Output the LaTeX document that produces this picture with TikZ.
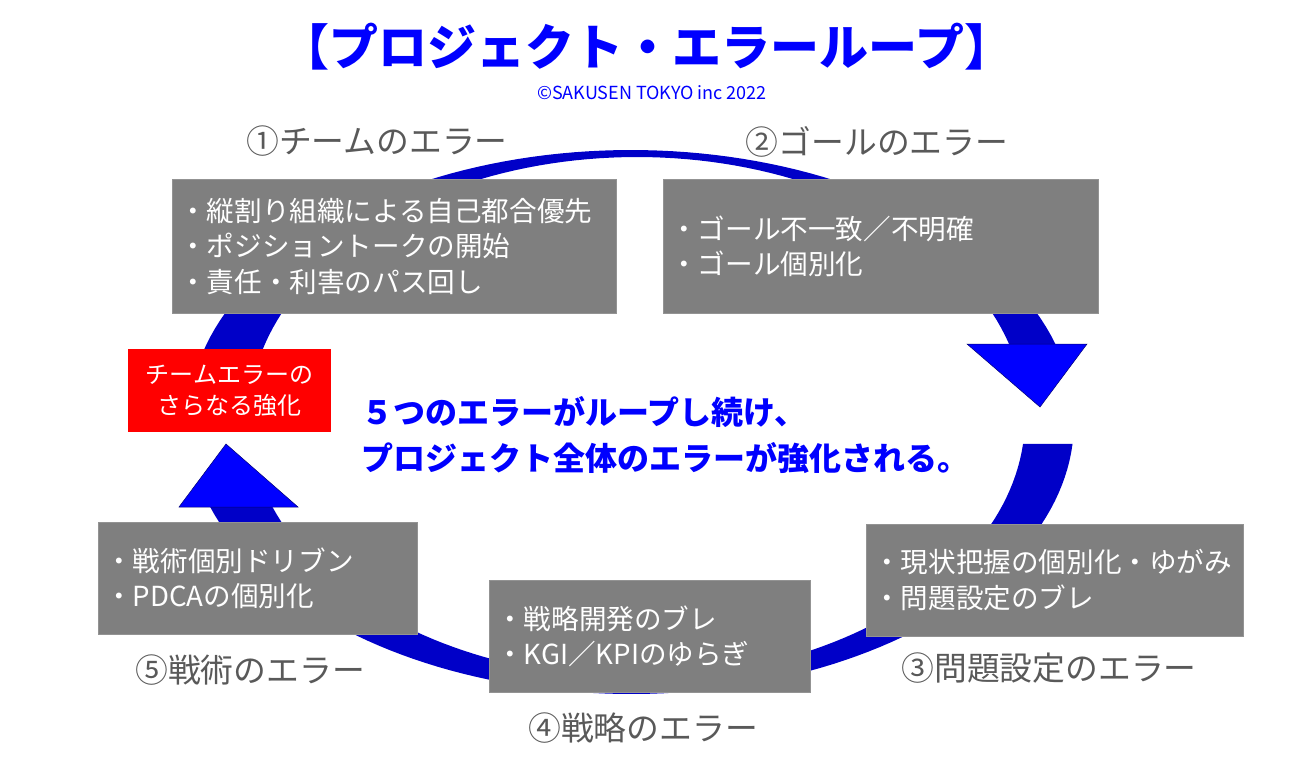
\documentclass[tikz,border=0pt]{standalone}
\usepackage{fontspec}
\newfontfamily\jp{Noto Sans CJK JP}
\definecolor{boxgray}{HTML}{7F7F7F}
\definecolor{labelgray}{HTML}{595959}
\definecolor{ringblue}{HTML}{0000C8}
\begin{document}
\begin{tikzpicture}[x=1pt,y=-1pt,
  box/.style={fill=boxgray,draw=gray!85,text=white,anchor=north west,align=left,inner xsep=7pt,font={\jp\fontsize{27.6}{35.5}\selectfont}},
  errlabel/.style={text=labelgray,font={\jp\fontsize{32.8}{38}\selectfont}},
  head/.style={fill=blue,draw=blue!45!black,line width=0.5pt}]
\useasboundingbox (0,0) rectangle (1293,764);
% loop ring, upper and lower half
\fill[ringblue] plot[domain=180:16.7,samples=90] ({631+443*cos(\x)},{422-272*sin(\x)})
  -- plot[domain=16.5:180,samples=90] ({637+388*cos(\x)},{418-261*sin(\x)}) -- cycle;
\filldraw[head] (967,344) -- (1040,407) -- (1087,344) -- cycle;
\fill[ringblue] plot[domain=-4.6:-161.8,samples=90] ({631+443*cos(\x)},{422-272*sin(\x)})
  -- plot[domain=-160:-5.7,samples=90] ({637+388*cos(\x)},{418-260*sin(\x)}) -- cycle;
\filldraw[head] (179,507) -- (226,444) -- (298,507) -- cycle;
% boxes
\foreach \name/\x/\y/\w/\h/\txt in {
  team/172/179/444/134/{・縦割り組織による自己都合優先\\・ポジショントークの開始\\・責任・利害のパス回し},
  goal/663/179/435/134/{・ゴール不一致／不明確\\・ゴール個別化},
  problem/866/524/377/112/{・現状把握の個別化・ゆがみ\\・問題設定のブレ},
  strategy/489/580/321/112/{・戦略開発のブレ\\・KGI／KPIのゆらぎ},
  tactics/98/522/319/112/{・戦術個別ドリブン\\・PDCAの個別化}}{
\pgfmathsetmacro\tw{\w-14}
\node[box,text width=\tw pt,minimum height=\h pt] (\name) at (\x,\y) {\txt};
}
\foreach \name/\x/\y/\txt in {teamlbl/377/141/①チームのエラー,goallbl/877/142/②ゴールのエラー,
  problemlbl/1049/668/③問題設定のエラー,strategylbl/643/728/④戦略のエラー,tacticslbl/250/670/⑤戦術のエラー}
  \node[errlabel] (\name) at (\x,\y) {\txt};
\node[fill=red,text=white,align=center,minimum width=203pt,minimum height=83pt,font={\jp\fontsize{24}{31}\selectfont}] (boost) at (229.5,390.5) {チームエラーの\\さらなる強化};
\node[text=blue,font={\jp\bfseries\fontsize{49}{54}\selectfont}] (title) at (647,47) {【プロジェクト・エラーループ】};
\node[text=blue,font={\jp\fontsize{18}{20}\selectfont}] (copy) at (652,93) {©SAKUSEN TOKYO inc 2022};
\node[text=blue,align=left,anchor=west,font={\jp\bfseries\fontsize{32}{46}\selectfont}] (msg) at (358,435) {５つのエラーがループし続け、\\プロジェクト全体のエラーが強化される。};
\end{tikzpicture}
\end{document}
